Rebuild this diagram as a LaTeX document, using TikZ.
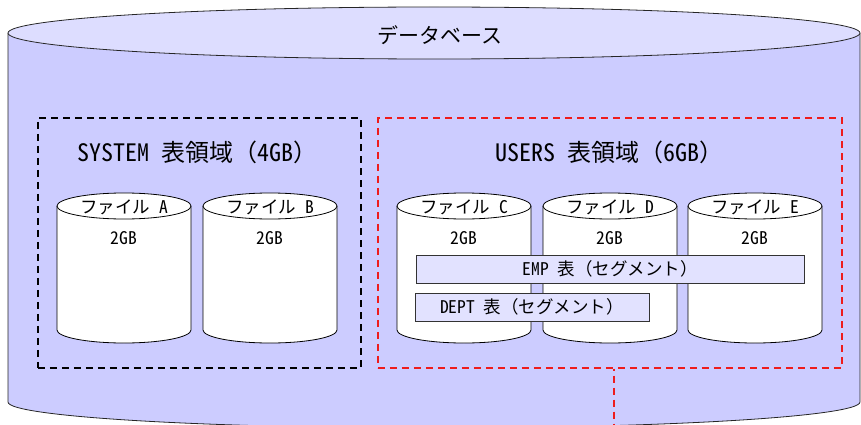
\documentclass[tikz,border=0pt]{standalone}
\usepackage{fontspec}
\setmainfont{Noto Sans CJK JP}
\newfontfamily\hw{Noto Sans CJK JP}[RawFeature=+hwid]
\definecolor{dbbody}{HTML}{CCCCFF}
\definecolor{dbtop}{HTML}{DDDDFF}
\definecolor{segfill}{HTML}{E2E2FF}
\definecolor{usersred}{HTML}{EE1C1C}

\tikzset{
  dbline/.style={draw=black!85, line width=0.8pt},
  filebody/.style={draw=black, fill=white, line width=0.8pt},
  filelabel/.style={inner sep=0pt, font=\fontsize{17.5}{20}\selectfont},
  tstitle/.style={inner sep=0pt, font=\fontsize{24}{28}\selectfont},
  tsbox/.style={draw, line width=1.6pt, dash pattern=on 7pt off 5pt,
                minimum width=323pt, minimum height=250pt, anchor=north west, inner sep=0pt},
  segbox/.style={draw=black!80, fill=segfill, line width=0.8pt, inner sep=0pt,
                 minimum height=28pt, font=\fontsize{17.5}{20}\selectfont},
}

% one data file drawn as a small cylinder: #1 name, #2 left edge, #3 letter
\newcommand\dbfile[3]{%
  \draw[filebody] (#2,206) -- (#2,330)
     arc[start angle=180, end angle=360, x radius=67pt, y radius=13pt] -- (#2+134,206);
  \draw[filebody] (#2+67,206) ellipse[x radius=67pt, y radius=13pt];
  \node[filelabel] (#1-name) at (#2+67,207) {ファイル{\hw\ #3}};
  \node[filelabel] (#1-size) at (#2+67,238) {\hw 2GB};
}

\begin{document}
\begin{tikzpicture}[x=1pt, y=-1pt]
\useasboundingbox (0,0) rectangle (861,425);

% database cylinder
\draw[dbline, fill=dbbody] (8,33) -- (8,402)
   arc[start angle=180, end angle=360, x radius=426pt, y radius=26pt] -- (860,33);
\draw[dbline, fill=dbtop] (434,33) ellipse[x radius=426pt, y radius=26pt];
\node[tstitle, font=\fontsize{21}{25}\selectfont] (db) at (440,35) {データベース};

% SYSTEM tablespace
\node[tsbox, draw=black] (system) at (37,117) {};
\node[tstitle] (system-title) at (197,152) {{\hw SYSTEM }表領域（{\hw 4GB}）};
\dbfile{fa}{57}{A}
\dbfile{fb}{203}{B}

% USERS tablespace
\node[tsbox, draw=usersred, minimum width=464pt] (users) at (377,117) {};
\node[tstitle] (users-title) at (609,152) {{\hw USERS }表領域（{\hw 6GB}）};
\dbfile{fc}{397}{C}
\dbfile{fd}{543}{D}
\dbfile{fe}{688}{E}

% segments spread over the files
\node[segbox, minimum width=388pt] (emp) at (610,269) {{\hw EMP }表（セグメント）};
\node[segbox, minimum width=234pt] (dept) at (532,307) {{\hw DEPT }表（セグメント）};

% link leaving the USERS tablespace
\coordinate (tail) at (614,430);
\draw[usersred, line width=1.6pt, dash pattern=on 7pt off 5pt, dash phase=5pt]
   (users.south -| tail) -- (tail);
\end{tikzpicture}
\end{document}
